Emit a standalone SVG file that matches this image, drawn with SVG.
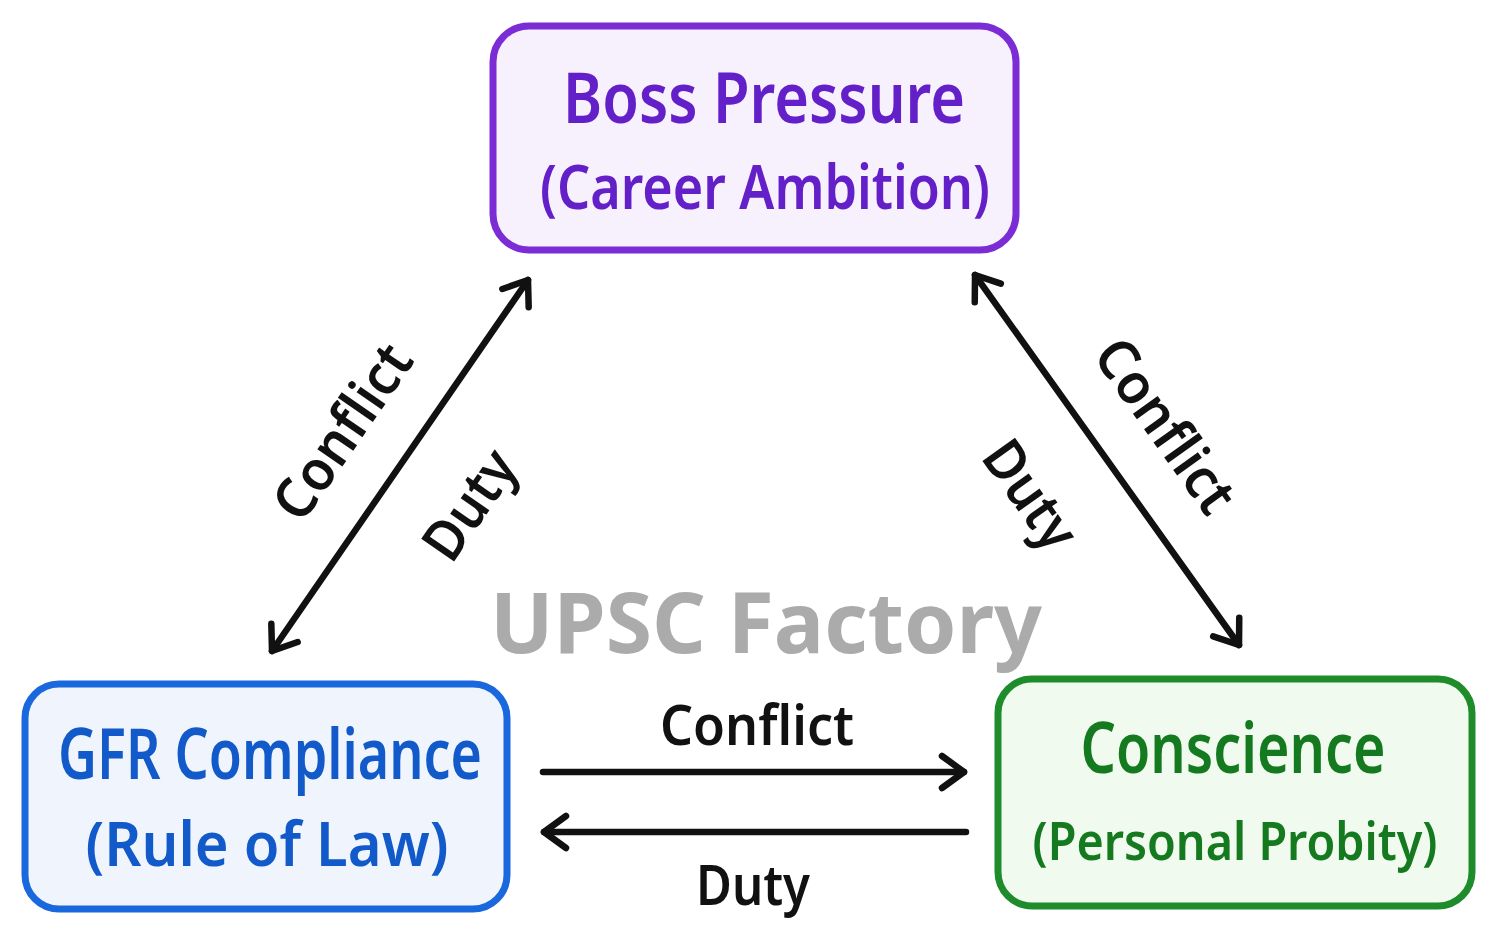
<svg xmlns="http://www.w3.org/2000/svg" width="1499" height="952" viewBox="0 0 1499 952">
  <style>
    .hand { font-family: "Noto Sans", "Open Sans", sans-serif; font-weight: 600; }
    .node-title { font-size: 70px; text-anchor: middle; }
    .node-sub { font-size: 62px; text-anchor: middle; }
    .lbl { font-family: "Noto Sans", "Open Sans", sans-serif; font-size: 56px; fill: #111; text-anchor: middle; font-weight: 600; }
    .edge { stroke: #111; stroke-width: 6.5; fill: none; stroke-linecap: round; }
    .wm { font-family: "Noto Sans", "Open Sans", sans-serif; font-weight: 700; font-size: 84px; fill: #ababab; }
  </style>
  <defs>
    <marker id="head" viewBox="0 0 40 40" refX="30" refY="20" markerWidth="40" markerHeight="40" markerUnits="userSpaceOnUse" orient="auto-start-reverse">
      <path d="M8 4 L30 20 L8 36" fill="none" stroke="#111" stroke-width="6.5" stroke-linecap="round" stroke-linejoin="round"/>
    </marker>
  </defs>
  <rect width="1499" height="952" fill="#ffffff"/>

  <text class="wm" x="490" y="653" textLength="552" lengthAdjust="spacingAndGlyphs">UPSC Factory</text>

  <g id="connectors">
    <line class="edge" x1="272" y1="651" x2="528" y2="280" marker-start="url(#head)" marker-end="url(#head)"/>
    <line class="edge" x1="975" y1="275" x2="1239" y2="645" marker-start="url(#head)" marker-end="url(#head)"/>
    <line class="edge" x1="543" y1="772" x2="964" y2="772" marker-end="url(#head)"/>
    <line class="edge" x1="966" y1="832" x2="544" y2="832" marker-end="url(#head)"/>
    <text class="lbl" transform="translate(343,432) rotate(-55.4)" y="19" textLength="200" lengthAdjust="spacingAndGlyphs">Conflict</text>
    <text class="lbl" transform="translate(470,505) rotate(-55.4)" y="19" textLength="120" lengthAdjust="spacingAndGlyphs">Duty</text>
    <text class="lbl" transform="translate(1165,426) rotate(54.5)" y="19" textLength="200" lengthAdjust="spacingAndGlyphs">Conflict</text>
    <text class="lbl" transform="translate(1030,495) rotate(54.5)" y="19" textLength="120" lengthAdjust="spacingAndGlyphs">Duty</text>
    <text class="lbl" x="757" y="745" textLength="194" lengthAdjust="spacingAndGlyphs">Conflict</text>
    <text class="lbl" x="753" y="905" textLength="114" lengthAdjust="spacingAndGlyphs">Duty</text>
  </g>

  <g id="boss">
    <rect x="493" y="26" width="523" height="224" rx="36" fill="#f7f0fd" stroke="#7b2cd4" stroke-width="7"/>
    <text class="hand node-title" x="764" y="123" fill="#6420c8" textLength="402" lengthAdjust="spacingAndGlyphs">Boss Pressure</text>
    <text class="hand node-sub" x="765" y="209" fill="#6420c8" textLength="450" lengthAdjust="spacingAndGlyphs">(Career Ambition)</text>
  </g>

  <g id="gfr">
    <rect x="25" y="684" width="482" height="225" rx="34" fill="#f0f5fd" stroke="#1a68de" stroke-width="7"/>
    <text class="hand node-title" x="270" y="779" fill="#1259c9" textLength="424" lengthAdjust="spacingAndGlyphs">GFR Compliance</text>
    <text class="hand node-sub" x="267" y="866" fill="#1259c9" textLength="363" lengthAdjust="spacingAndGlyphs">(Rule of Law)</text>
  </g>

  <g id="conscience">
    <rect x="998" y="679" width="474" height="227" rx="34" fill="#f0faef" stroke="#1f8c2b" stroke-width="7"/>
    <text class="hand node-title" x="1233" y="773" fill="#157a1f" textLength="305" lengthAdjust="spacingAndGlyphs">Conscience</text>
    <text class="hand node-sub" x="1235" y="860" fill="#157a1f" textLength="405" lengthAdjust="spacingAndGlyphs" style="font-size:52px">(Personal Probity)</text>
  </g>
</svg>
